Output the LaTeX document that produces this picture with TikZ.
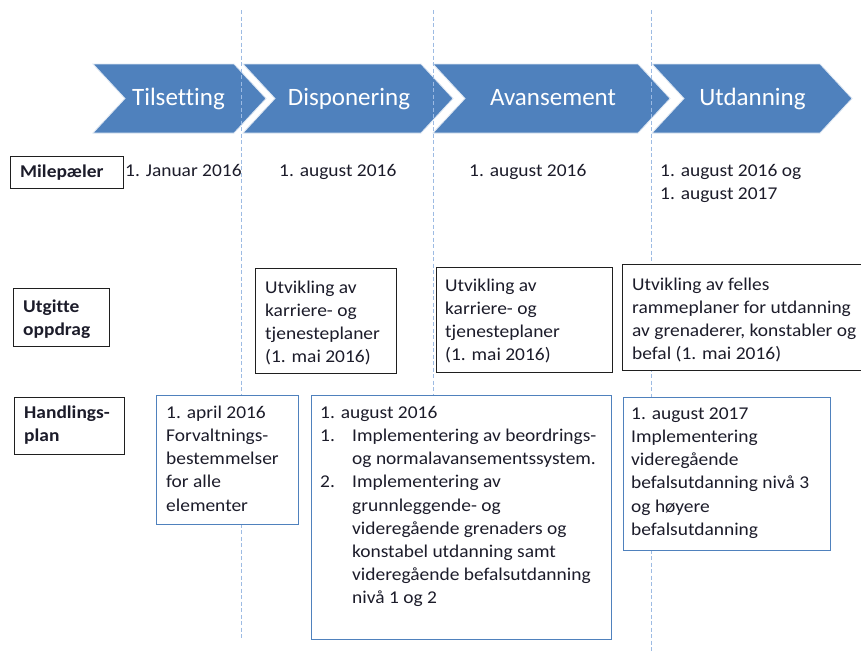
\documentclass[tikz,border=0pt]{standalone}
\usepackage{fontspec}
\setmainfont[FakeStretch=1.08,Ligatures=NoCommon]{Carlito}
\newfontfamily\chevfont[Ligatures=NoCommon]{Carlito}
\definecolor{ofblue}{HTML}{4F81BD}
\definecolor{dashblue}{HTML}{9DBBE3}
\definecolor{txtdark}{HTML}{1C1C2A}
\newcommand{\lnstrut}{\rule{0pt}{14pt}}
\newcommand{\numit}[1]{\makebox[32pt][l]{#1}}
\newcommand{\indit}{\hspace*{32pt}}
\begin{document}
\begin{tikzpicture}[x=1pt,y=-1pt,
  chev/.style={fill=ofblue, draw=white!80!ofblue, line width=0.8pt},
  chevtext/.style={text=white, font=\chevfont\fontsize{25}{29}\selectfont, inner sep=0, anchor=base},
  bodytext/.style={anchor=north west, inner sep=0, align=left, font=\fontsize{18}{23.2}\selectfont, text=txtdark},
  blackbox/.style={draw=black!88, line width=1.2pt, fill=white, anchor=north west, inner sep=0},
  bluebox/.style={draw=ofblue, line width=1.2pt, fill=white, anchor=north west, inner sep=0},
  guide/.style={draw=dashblue, dash pattern=on 4pt off 2.5pt, line width=0.9pt}]
\useasboundingbox (0,0) rectangle (861,653);
\fill[white] (0,0) rectangle (861,653);
% chevrons
\path[chev] (93,64) -- (234,64) -- (266,98.5) -- (234,133) -- (93,133) -- (125,98.5) -- cycle;
\path[chev] (243,64) -- (421,64) -- (453,98.5) -- (421,133) -- (243,133) -- (275,98.5) -- cycle;
\path[chev] (433,64) -- (638,64) -- (670,98.5) -- (638,133) -- (433,133) -- (465,98.5) -- cycle;
\path[chev] (652,64) -- (820,64) -- (852,98.5) -- (820,133) -- (652,133) -- (684,98.5) -- cycle;
\node[chevtext] (c1) at (178.5,105) {Tilsetting};
\node[chevtext] (c2) at (349,105) {Disponering};
\node[chevtext] (c3) at (553,105) {Avansement};
\node[chevtext] (c4) at (752.5,105) {Utdanning};
% guide lines
\coordinate (g1t) at (241,10); \coordinate (g1b) at (241,640);
\coordinate (g2t) at (433,10); \coordinate (g2b) at (433,640);
\coordinate (g3t) at (651,10); \coordinate (g3b) at (651,653);
\draw[guide] (g1t) -- (g1b);
\draw[guide] (g2t) -- (g2b);
\draw[guide] (g3t) -- (g3b);
% row labels
\node[blackbox, minimum width=113pt, minimum height=32pt] (mbox) at (10,156) {};
\node[bodytext, font=\fontsize{18}{23.2}\selectfont\bfseries] (mtxt) at (20,163) {\lnstrut Milepæler};
\node[blackbox, minimum width=96pt, minimum height=58pt] (ubox) at (13,288) {};
\node[bodytext, font=\fontsize{18}{23.2}\selectfont\bfseries] (utxt) at (23,298) {\lnstrut Utgitte\\oppdrag};
\node[blackbox, minimum width=110pt, minimum height=57pt] (hbox) at (14,397) {};
\node[bodytext, font=\fontsize{18}{23.2}\selectfont\bfseries] (htxt) at (24,404) {\lnstrut Handlings-\\plan};
% milestones
\node[bodytext] (m1) at (125,162) {\lnstrut 1. Januar 2016};
\node[bodytext] (m2) at (279,162) {\lnstrut 1. august 2016};
\node[bodytext] (m3) at (469,162) {\lnstrut 1. august 2016};
\node[bodytext] (m4) at (660,162) {\lnstrut 1. august 2016 og\\1. august 2017};
% oppdrag boxes
\node[blackbox, minimum width=141pt, minimum height=105pt] (abox) at (255,268) {};
\node[bodytext] (atxt) at (265,279) {\lnstrut Utvikling av\\karriere- og\\tjenesteplaner\\(1. mai 2016)};
\node[blackbox, minimum width=176pt, minimum height=105pt] (bbox) at (436,267) {};
\node[bodytext] (btxt) at (445,277) {\lnstrut Utvikling av\\karriere- og\\tjenesteplaner\\(1. mai 2016)};
\node[blackbox, minimum width=250pt, minimum height=106pt] (cbox) at (622,264) {};
\node[bodytext] (ctxt) at (632,276) {\lnstrut Utvikling av felles\\rammeplaner for utdanning\\av grenaderer, konstabler og\\befal (1. mai 2016)};
% handlingsplan boxes
\node[bluebox, minimum width=142pt, minimum height=129pt] (dbox) at (156,395) {};
\node[bodytext] (dtxt) at (166,404) {\lnstrut 1. april 2016\\Forvaltnings-\\bestemmelser\\for alle\\elementer};
\node[bluebox, minimum width=300pt, minimum height=244pt] (ebox) at (311,395) {};
\node[bodytext] (etxt) at (320,404) {\lnstrut 1. august 2016\\
\numit{1.}Implementering av beordrings-\\
\indit og normalavansementssystem.\\
\numit{2.}Implementering av\\
\indit grunnleggende- og\\
\indit videregående grenaders og\\
\indit konstabel utdanning samt\\
\indit videregående befalsutdanning\\
\indit nivå 1 og 2};
\node[bluebox, minimum width=207pt, minimum height=153pt] (fbox) at (623,397) {};
\node[bodytext] (ftxt) at (631,405) {\lnstrut 1. august 2017\\Implementering\\videregående\\befalsutdanning nivå 3\\og høyere\\befalsutdanning};
\end{tikzpicture}
\end{document}
